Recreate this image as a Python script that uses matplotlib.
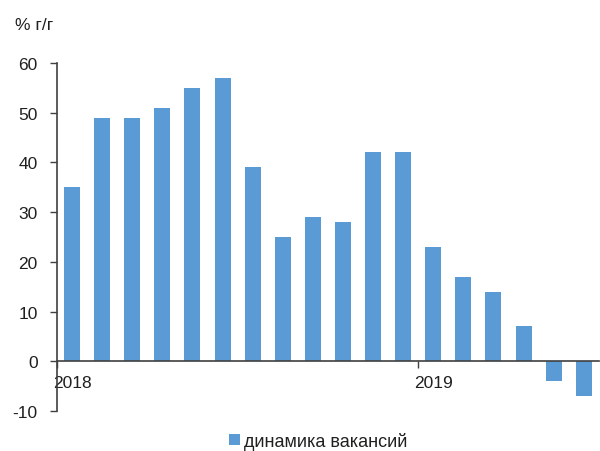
import matplotlib
matplotlib.use("Agg")
import matplotlib.pyplot as plt
import numpy as np

plt.rcParams['font.family'] = ['Liberation Sans', 'DejaVu Sans']
plt.rcParams['axes.unicode_minus'] = False

values = [35, 49, 49, 51, 55, 57, 39, 25, 29, 28, 42, 42, 23, 17, 14, 7, -4, -7]
year_labels = ["2018", "2019"]
year_start_idx = [0, 12]
yticks = [-10, 0, 10, 20, 30, 40, 50, 60]
series_name = "динамика вакансий"
unit_label = "% г/г"

color = "#5B9BD5"
axis_color = "#404040"

fig = plt.figure(figsize=(6, 4.52), dpi=100)
ax = fig.add_axes([0.095, 0.0885, 0.903, 0.77])

x = np.arange(len(values))
ax.bar(x, values, width=0.53, color=color, label=series_name, zorder=2)

ax.set_xlim(-0.5, len(values) - 0.5)
ax.set_ylim(-10, 60)
ax.set_yticks(yticks)
ax.tick_params(axis='y', direction='out', length=5, width=1, color=axis_color,
               labelsize=12.5, pad=9, labelcolor='#202020')

for s in ['top', 'right']:
    ax.spines[s].set_visible(False)
ax.spines['left'].set_color(axis_color)
ax.spines['left'].set_linewidth(1.2)
ax.spines['left'].set_bounds(-10, 60)
ax.spines['bottom'].set_position(('data', 0))
ax.spines['bottom'].set_color(axis_color)
ax.spines['bottom'].set_linewidth(1.2)

ax.set_xticks([i - 0.5 for i in year_start_idx])
ax.set_xticklabels([])
ax.set_xticks(year_start_idx, minor=True)
ax.set_xticklabels(year_labels, minor=True)
ax.tick_params(axis='x', which='major', direction='out', length=5, width=1, color=axis_color)
ax.tick_params(axis='x', which='minor', length=0, labelsize=12.5, pad=10, labelcolor='#202020')

fig.text(0.025, 0.943, unit_label, fontsize=12.5, ha='left', va='center', color='#202020')

leg = fig.legend(loc='center', bbox_to_anchor=(0.53, 0.022), frameon=False,
                 fontsize=13, handlelength=0.6, handleheight=0.6, handletextpad=0.2)
for t in leg.get_texts():
    t.set_color('#202020')

fig.savefig("out.png", dpi=100)
